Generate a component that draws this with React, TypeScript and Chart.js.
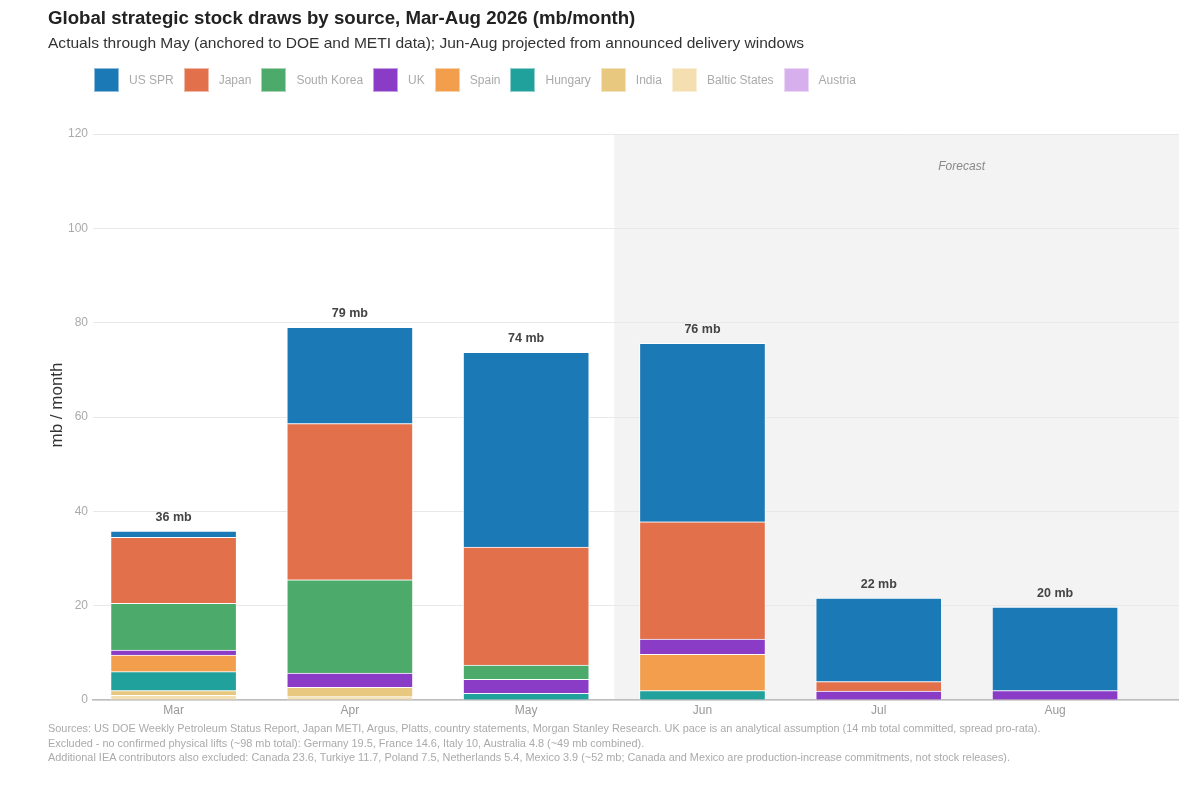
import React, { useEffect, useRef } from 'react';
import { Chart, registerables } from 'chart.js';

Chart.register(...registerables);

const FONT = '"Liberation Sans", Arial, Helvetica, sans-serif';

// ---- data ----
const months = ['Mar', 'Apr', 'May', 'Jun', 'Jul', 'Aug'];
const usSpr = [1.3, 20.4, 41.3, 37.8, 17.7, 17.7];
const japan = [14.0, 33.1, 25.0, 24.9, 2.0, 0];
const southKorea = [9.9, 19.8, 3.0, 0, 0, 0];
const uk = [1.1, 3.0, 3.0, 3.2, 1.9, 2.0];
const spain = [3.5, 0, 0, 7.7, 0, 0];
const hungary = [4.0, 0, 1.4, 2.0, 0, 0];
const india = [1.0, 2.0, 0, 0, 0, 0];
const balticStates = [1.0, 0.7, 0, 0, 0, 0];
const austria = [0, 0, 0, 0, 0, 0];

const seriesNames = ['US SPR', 'Japan', 'South Korea', 'UK', 'Spain', 'Hungary', 'India', 'Baltic States', 'Austria'];
const seriesValues = [usSpr, japan, southKorea, uk, spain, hungary, india, balticStates, austria];
const seriesColors = ['#1b79b5', '#e1704b', '#4cab6a', '#8a3cc6', '#f29e4c', '#21a19c', '#e8c77e', '#f3dfb0', '#d5b0ec'];
// stacking order, bottom first
const stackOrder = ['Austria', 'Baltic States', 'India', 'Hungary', 'Spain', 'UK', 'South Korea', 'Japan', 'US SPR'];

const yTicks = [0, 20, 40, 60, 80, 100, 120];
const forecastStart = 2.5; // boundary between May and Jun
const forecastLabel = 'Forecast';
const forecastLabelX = 4.47;
const forecastLabelY = 113;

const titleText = 'Global strategic stock draws by source, Mar-Aug 2026 (mb/month)';
const subtitleText = 'Actuals through May (anchored to DOE and METI data); Jun-Aug projected from announced delivery windows';
const yTitle = 'mb / month';
const notes = [
  'Sources: US DOE Weekly Petroleum Status Report, Japan METI, Argus, Platts, country statements, Morgan Stanley Research. UK pace is an analytical assumption (14 mb total committed, spread pro-rata).',
  'Excluded - no confirmed physical lifts (~98 mb total): Germany 19.5, France 14.6, Italy 10, Australia 4.8 (~49 mb combined).',
  'Additional IEA contributors also excluded: Canada 23.6, Turkiye 11.7, Poland 7.5, Netherlands 5.4, Mexico 3.9 (~52 mb; Canada and Mexico are production-increase commitments, not stock releases).',
];

const X_MIN = -0.457;
const X_MAX = 5.703;

const overlayPlugin = {
  id: 'overlayPlugin',
  beforeDraw(chart: any) {
    const { ctx, chartArea, scales } = chart;
    const x = scales.x;
    const left = x.getPixelForValue(forecastStart);
    ctx.save();
    ctx.fillStyle = '#f3f3f3';
    ctx.fillRect(left, chartArea.top, chartArea.right - left, chartArea.bottom - chartArea.top);
    ctx.restore();
  },
  afterDatasetsDraw(chart: any) {
    const { ctx, scales } = chart;
    const x = scales.x;
    const y = scales.y;
    ctx.save();
    ctx.font = `bold 12.5px ${FONT}`;
    ctx.fillStyle = '#444444';
    ctx.textAlign = 'center';
    ctx.textBaseline = 'middle';
    months.forEach((_, i) => {
      const total = seriesValues.reduce((s, arr) => s + arr[i], 0);
      ctx.fillText(`${Math.round(total)} mb`, x.getPixelForValue(i), y.getPixelForValue(total) - 14);
    });
    ctx.font = `italic 12px ${FONT}`;
    ctx.fillStyle = '#888888';
    ctx.fillText(forecastLabel, x.getPixelForValue(forecastLabelX), y.getPixelForValue(forecastLabelY));
    // y axis title
    ctx.translate(57, 405);
    ctx.rotate(-Math.PI / 2);
    ctx.font = `17px ${FONT}`;
    ctx.fillStyle = '#333333';
    ctx.fillText(yTitle, 0, 0);
    ctx.restore();
  },
};

export default function App() {
  const canvasRef = useRef<HTMLCanvasElement | null>(null);

  useEffect(() => {
    const canvas = canvasRef.current;
    if (!canvas) return;
    const datasets = stackOrder.map((name) => {
      const idx = seriesNames.indexOf(name);
      return {
        label: name,
        data: months.map((_, i) => ({ x: i, y: seriesValues[idx][i] })),
        backgroundColor: seriesColors[idx],
        borderColor: 'rgba(255,255,255,0.85)',
        borderWidth: 1,
        barThickness: 126,
      };
    });
    const chart = new Chart(canvas, {
      type: 'bar',
      data: { datasets } as any,
      options: {
        responsive: false,
        animation: false,
        devicePixelRatio: 1,
        layout: { padding: { left: 43, right: 0, top: 134, bottom: 77 } },
        plugins: {
          legend: { display: false },
          tooltip: { enabled: false },
          title: { display: false },
        },
        scales: {
          x: {
            type: 'linear',
            stacked: true,
            offset: false,
            min: X_MIN,
            max: X_MAX,
            afterBuildTicks: (s: any) => {
              s.ticks = months.map((_, i) => ({ value: i }));
            },
            afterFit: (s: any) => {
              s.height = 30;
            },
            grid: { display: false, drawTicks: false, offset: false },
            border: { display: true, color: '#bdbdbd', width: 1.5 },
            ticks: {
              padding: 3,
              color: '#999999',
              font: { size: 12, family: FONT },
              autoSkip: false,
              maxRotation: 0,
              callback: (v: any) => months[Math.round(Number(v))] ?? '',
            },
          },
          y: {
            stacked: true,
            min: yTicks[0],
            max: yTicks[yTicks.length - 1],
            afterBuildTicks: (s: any) => {
              s.ticks = yTicks.map((v) => ({ value: v }));
            },
            afterFit: (s: any) => {
              s.width = 50;
            },
            ticks: { padding: 5, color: '#aaaaaa', font: { size: 12, family: FONT } },
            grid: { color: '#e8e8e8', drawTicks: false, lineWidth: 1 },
            border: { display: false },
            title: { display: false },
          },
        },
      } as any,
      plugins: [overlayPlugin],
    });
    return () => chart.destroy();
  }, []);

  return (
    <div style={{ position: 'absolute', left: 0, top: 0, width: 1179, height: 807, background: '#ffffff', fontFamily: FONT, overflow: 'hidden' }}>
      <canvas ref={canvasRef} width={1179} height={807} style={{ position: 'absolute', left: 0, top: 0, width: 1179, height: 807 }} />
      <div style={{ position: 'absolute', left: 48, top: 7, fontSize: 18.65, lineHeight: '22px', fontWeight: 'bold', color: '#222222', whiteSpace: 'nowrap' }}>{titleText}</div>
      <div style={{ position: 'absolute', left: 48, top: 32.5, fontSize: 15.56, lineHeight: '19px', color: '#333333', whiteSpace: 'nowrap' }}>{subtitleText}</div>
      <div style={{ position: 'absolute', left: 94, top: 67, display: 'flex', alignItems: 'center', height: 25 }}>
        {seriesNames.map((name, i) => (
          <div key={name} style={{ display: 'flex', alignItems: 'center' }}>
            <div style={{ width: 25, height: 24, background: seriesColors[i], marginRight: 10, boxSizing: 'border-box', border: '1px solid rgba(255,255,255,0.5)' }} />
            <div style={{ fontSize: 12, color: '#aaaaaa', marginRight: 10, whiteSpace: 'nowrap', lineHeight: '14px' }}>{name}</div>
          </div>
        ))}
      </div>
      <div style={{ position: 'absolute', left: 48, top: 721, fontSize: 10.9, lineHeight: '14.5px', color: '#aaaaaa', whiteSpace: 'nowrap' }}>
        {notes.map((n) => (
          <div key={n}>{n}</div>
        ))}
      </div>
    </div>
  );
}
